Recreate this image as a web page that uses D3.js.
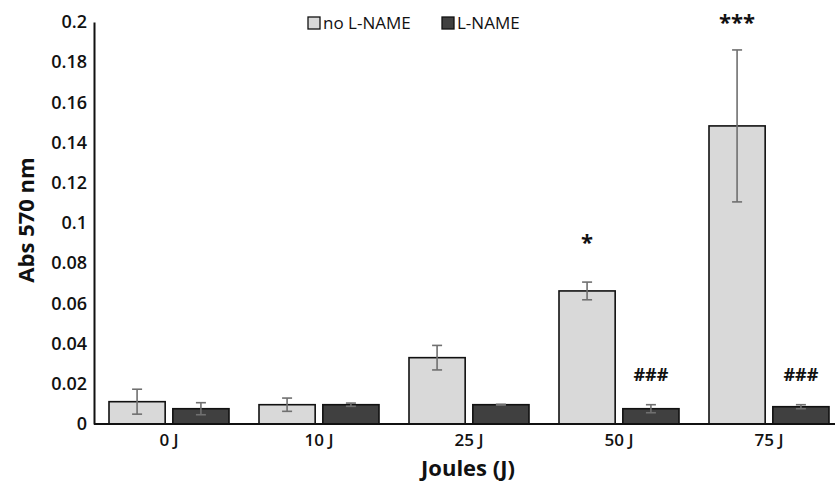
<!DOCTYPE html>
<html>
<head>
<meta charset="utf-8">
<script src="https://cdn.jsdelivr.net/npm/d3@7"></script>
<style>
  body { margin: 0; background: #fff; }
  text { font-family: "Open Sans", "Noto Sans", sans-serif; fill: #111; }
</style>
</head>
<body>
<svg class="chart" width="835" height="484"></svg>
<script>
var categories = ["0 J", "10 J", "25 J", "50 J", "75 J"]
var series = ["no L-NAME", "L-NAME"]
var noLname = [0.0111, 0.0096, 0.0330, 0.0662, 0.1483]
var noLnameErr = [0.0062, 0.0033, 0.0061, 0.0044, 0.0378]
var lname = [0.0076, 0.0096, 0.0096, 0.0076, 0.0086]
var lnameErr = [0.0030, 0.0008, 0.0002, 0.0020, 0.0010]
var yTicks = [0, 0.02, 0.04, 0.06, 0.08, 0.1, 0.12, 0.14, 0.16, 0.18, 0.2]
// significance marks: [category, series, label]
var marks = [["50 J", 0, "*"], ["75 J", 0, "***"], ["50 J", 1, "###"], ["75 J", 1, "###"]]

var colors = {"no L-NAME": "#d9d9d9", "L-NAME": "#404040"}

var svg = d3.select(".chart")
// note: "top" is taken by window.top, so the plot edges get their own names
var plotL = 94, plotR = 844, plotT = 22, plotB = 424

var x = d3.scaleBand().domain(categories).range([plotL, plotR]).paddingInner(0.2).paddingOuter(0.1)
var xs = d3.scaleBand().domain(series).range([0, x.bandwidth()]).paddingInner(0.12)
var y = d3.scaleLinear().domain([0, 0.2]).range([plotB, plotT])

var rows = []
categories.forEach(function(c, i) {
  rows.push({cat: c, s: series[0], v: noLname[i], e: noLnameErr[i]})
  rows.push({cat: c, s: series[1], v: lname[i], e: lnameErr[i]})
})

// bars
svg.append("g").selectAll("rect")
  .data(rows)
  .enter().append("rect")
  .attr("x", function(d) { return x(d.cat) + xs(d.s) })
  .attr("width", xs.bandwidth())
  .attr("y", function(d) { return y(d.v) })
  .attr("height", function(d) { return y(0) - y(d.v) })
  .attr("fill", function(d) { return colors[d.s] })
  .attr("stroke", "#111")
  .attr("stroke-width", 1.6)

// error bars
var eb = svg.append("g").attr("stroke", "#707070").attr("stroke-width", 1.6)
rows.forEach(function(d) {
  var cx = x(d.cat) + xs(d.s) + xs.bandwidth() / 2
  eb.append("line").attr("x1", cx).attr("x2", cx).attr("y1", y(d.v + d.e)).attr("y2", y(d.v - d.e))
  eb.append("line").attr("x1", cx - 5).attr("x2", cx + 5).attr("y1", y(d.v + d.e)).attr("y2", y(d.v + d.e))
  eb.append("line").attr("x1", cx - 5).attr("x2", cx + 5).attr("y1", y(d.v - d.e)).attr("y2", y(d.v - d.e))
})

// axes
var yAxis = svg.append("g")
  .attr("transform", "translate(" + plotL + ",0)")
  .call(d3.axisLeft(y).tickValues(yTicks).tickFormat(d3.format("~g")).tickSize(0).tickPadding(7))
yAxis.select(".domain").attr("stroke", "#111").attr("stroke-width", 2)
yAxis.selectAll("text").style("font-size", "18px").style("font-weight", 600).attr("fill", "#111")

var xAxis = svg.append("g")
  .attr("transform", "translate(0," + plotB + ")")
  .call(d3.axisBottom(x).tickSize(0).tickPadding(10))
xAxis.select(".domain").attr("d", "M" + plotL + ",0H835").attr("stroke", "#111").attr("stroke-width", 2)
xAxis.selectAll("text").style("font-size", "17px").style("font-weight", 600).attr("fill", "#111")

// axis titles
svg.append("text")
  .attr("transform", "translate(34,220) rotate(-90)")
  .attr("text-anchor", "middle")
  .style("font-size", "22px").style("font-weight", 700)
  .text("Abs 570 nm")
svg.append("text")
  .attr("x", 468).attr("y", 476)
  .attr("text-anchor", "middle")
  .style("font-size", "22px").style("font-weight", 700)
  .text("Joules (J)")

// significance
svg.append("g").selectAll("text")
  .data(marks)
  .enter().append("text")
  .attr("x", function(d) { return x(d[0]) + xs(series[d[1]]) + xs.bandwidth() / 2 })
  .attr("y", function(d) {
    var i = categories.indexOf(d[0])
    if (d[1] === 0) return y(noLname[i] + noLnameErr[i]) - (d[2] === "*" ? 32 : 20)
    return 381
  })
  .attr("text-anchor", "middle")
  .style("font-size", function(d) { return d[1] === 0 ? "22px" : "18px" })
  .style("font-weight", 700)
  .text(function(d) { return d[2] })

// legend
var leg = svg.append("g")
var legX = [308, 442]
series.forEach(function(s, i) {
  leg.append("rect").attr("x", legX[i]).attr("y", 17).attr("width", 12).attr("height", 12)
    .attr("fill", colors[s]).attr("stroke", "#111").attr("stroke-width", 1.3)
  leg.append("text").attr("x", legX[i] + 15).attr("y", 29)
    .style("font-size", "17px").text(s)
})
</script>
</body>
</html>
